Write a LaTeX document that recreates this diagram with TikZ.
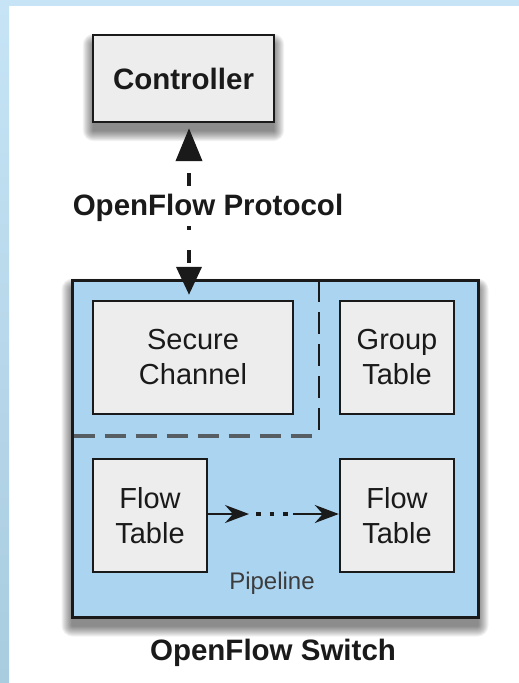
\documentclass[tikz,border=0pt]{standalone}
\usepackage{fontspec}
\setmainfont{Liberation Sans}
\usetikzlibrary{arrows.meta}
\definecolor{boxgray}{HTML}{EDEDED}
\definecolor{swblue}{HTML}{ABD4F1}
\definecolor{bgblue}{HTML}{C6E4F6}
\definecolor{bgbluedark}{HTML}{A9CCDF}
\definecolor{ink}{HTML}{1A1A1A}
\definecolor{dashgray}{HTML}{565E63}
\pgfdeclarelayer{backdrop}
\pgfsetlayers{backdrop,main}
\newcommand{\softshadow}[1]{%
  \foreach \r in {1,...,11}{%
    \fill[black, opacity=0.05, rounded corners=\r pt]
      ([xshift=-\r pt+2pt, yshift=-9pt+\r pt-2pt]#1.north west) rectangle
      ([xshift=\r pt-2pt, yshift=-9pt-\r pt+2pt]#1.south east);
  }%
}
\begin{document}
\begin{tikzpicture}[x=1pt,y=-1pt,
  txt/.style={text=ink, font=\fontsize{29}{35}\selectfont},
  boldtxt/.style={text=ink, font=\bfseries\fontsize{29.5}{36}\selectfont},
  box/.style={draw=ink, line width=2.4pt, fill=boxgray, inner sep=0pt, align=center, txt},
  conn/.style={draw=ink, line width=4pt},
  flowarrow/.style={draw=ink, line width=2pt, -{Stealth[length=24pt,width=18pt,inset=8pt]}},
  divider/.style={draw=ink, line width=2.2pt, dash pattern=on 22pt off 10pt},
  pipesplit/.style={draw=dashgray, line width=4.5pt, dash pattern=on 21pt off 10pt}
]
\useasboundingbox (0,0) rectangle (519,683);

% controller
\node[box, minimum width=181pt, minimum height=87pt, boldtxt] (ctrl) at (183.5,78.5) {Controller};

% switch
\node[draw=ink, line width=3pt, fill=swblue, minimum width=406pt, minimum height=337pt] (sw) at (275,448.5) {};

% background and shadows
\begin{pgfonlayer}{backdrop}
  \fill[white] (0,0) rectangle (519,683);
  \fill[bgblue] (0,0) rectangle (519,5.5);
  \shade[top color=bgblue, bottom color=bgbluedark] (0,0) rectangle (9,683);
  \softshadow{ctrl}
  \softshadow{sw}
\end{pgfonlayer}

% dividers
\draw[divider] (319,280) -- (319,436);
\draw[pipesplit] (73.5,436) -- (320,436);

% inner boxes
\node[box, minimum width=200pt, minimum height=113pt] (sc) at (193,357.5) {Secure\\Channel};
\node[box, minimum width=114pt, minimum height=113pt] (gt) at (397,357.5) {Group\\Table};
\node[box, minimum width=114pt, minimum height=113pt] (ft1) at (150,515.5) {Flow\\Table};
\node[box, minimum width=114pt, minimum height=113pt] (ft2) at (397,515.5) {Flow\\Table};

% labels
\node[boldtxt] (proto) at (208,208) {OpenFlow Protocol};
\node[text=ink!85, font=\fontsize{24}{28}\selectfont] (pipe) at (272,583) {Pipeline};
\node[boldtxt] (swlabel) at (273,653) {OpenFlow Switch};

% protocol connector
\coordinate (pu) at (189,186);
\coordinate (pd) at (189,226);
\draw[conn, dash pattern=on 13pt off 13pt, -{Triangle[length=33pt,width=26pt]}, shorten >=5pt] (pu) -- (pu |- ctrl.south);
\draw[conn, dash pattern=on 4pt off 20pt on 13pt off 40pt, -{Triangle[length=28pt,width=25pt]}, shorten >=5pt] (pd) -- (pd |- sc.north);

% pipeline arrows
\coordinate (a1) at (249,514);
\coordinate (d1) at (256,514);
\coordinate (d2) at (288,514);
\coordinate (a2) at (293,514);
\draw[flowarrow] (ft1.east |- a1) -- (a1);
\draw[draw=ink, line width=4.5pt, dash pattern=on 4.5pt off 9pt] (d1) -- (d2);
\draw[flowarrow] (a2) -- (ft2.west |- a2);
\end{tikzpicture}
\end{document}
